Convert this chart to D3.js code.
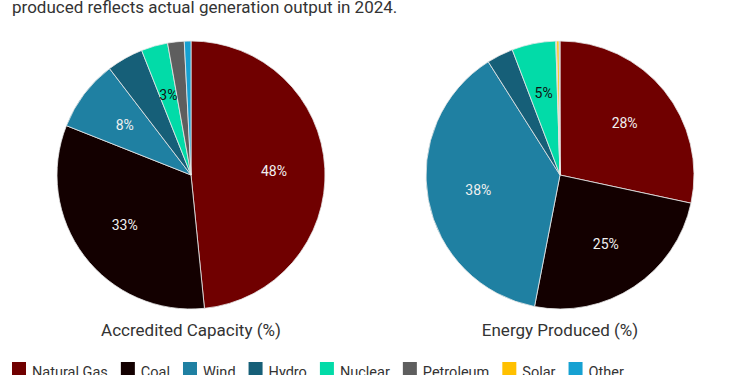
<!DOCTYPE html>
<html>
<head>
<meta charset="utf-8">
<script src="https://cdn.jsdelivr.net/npm/d3@7/dist/d3.min.js"></script>
<style>
  html, body { margin: 0; padding: 0; background: #fff; }
  svg { display: block; font-family: Roboto, "Noto Sans", sans-serif; }
</style>
</head>
<body>
<svg id="chart" width="750" height="375"></svg>
<script>
const categories = ["Natural Gas", "Coal", "Wind", "Hydro", "Nuclear", "Petroleum", "Solar", "Other"];
const colors = ["#700000", "#130000", "#1f80a2", "#165f78", "#02dba8", "#5e5e5e", "#ffc000", "#16a1d2"];
const capacityValues = [48.4, 32.6, 8.6, 4.4, 3.2, 2.0, 0.0, 0.8];
const energyValues = [28.4, 24.7, 38.0, 3.2, 5.3, 0.1, 0.3, 0.1];
const capacityLabels = ["48%", "33%", "8%", "", "3%", "", "", ""];
const energyLabels = ["28%", "25%", "38%", "", "5%", "", "", ""];
const pieTitles = ["Accredited Capacity (%)", "Energy Produced (%)"];
const subtitle = "produced reflects actual generation output in 2024.";

const svg = d3.select("#chart");

svg.append("text")
  .attr("x", 12).attr("y", 13)
  .attr("font-size", 17).attr("fill", "#333")
  .text(subtitle);

const radius = 134;
const centers = [{x: 191, y: 175}, {x: 560, y: 175}];
const datasets = [
  {values: capacityValues, labels: capacityLabels, title: pieTitles[0]},
  {values: energyValues, labels: energyLabels, title: pieTitles[1]}
];

const color = d3.scaleOrdinal().domain(categories).range(colors);
const pie = d3.pie().sort(null).value(d => d.value);
const arc = d3.arc().innerRadius(0).outerRadius(radius);
const labelArc = d3.arc().innerRadius(radius * 0.62).outerRadius(radius * 0.62);

datasets.forEach((ds, i) => {
  const data = categories.map((c, j) => ({cat: c, value: ds.values[j], label: ds.labels[j]}));
  const g = svg.append("g").attr("transform", `translate(${centers[i].x},${centers[i].y})`);
  const arcs = pie(data);
  g.selectAll("path").data(arcs).join("path")
    .attr("d", arc)
    .attr("fill", d => color(d.data.cat))
    .attr("stroke", "#e8e8e8")
    .attr("stroke-width", d => d.data.value > 0 ? 0.8 : 0);
  g.selectAll("text.lbl").data(arcs.filter(d => d.data.label)).join("text")
    .attr("class", "lbl")
    .attr("transform", d => `translate(${labelArc.centroid(d)})`)
    .attr("text-anchor", "middle")
    .attr("dy", "0.35em")
    .attr("font-size", 14)
    .attr("fill", d => d.data.cat === "Nuclear" ? "#111" : "#f0f0f0")
    .text(d => d.data.label);
  svg.append("text")
    .attr("x", centers[i].x).attr("y", 336)
    .attr("text-anchor", "middle")
    .attr("font-size", 17).attr("fill", "#333")
    .text(ds.title);
});

// legend
const legend = svg.append("g");
let lx = 12;
categories.forEach((c, j) => {
  const item = legend.append("g").attr("transform", `translate(${lx},362)`);
  item.append("rect").attr("width", 14).attr("height", 14).attr("fill", colors[j]);
  const t = item.append("text").attr("x", 20).attr("y", 14.5)
    .attr("font-size", 14.5).attr("fill", "#333").text(c);
  lx += 20 + t.node().getComputedTextLength() + 13;
});
</script>
</body>
</html>
